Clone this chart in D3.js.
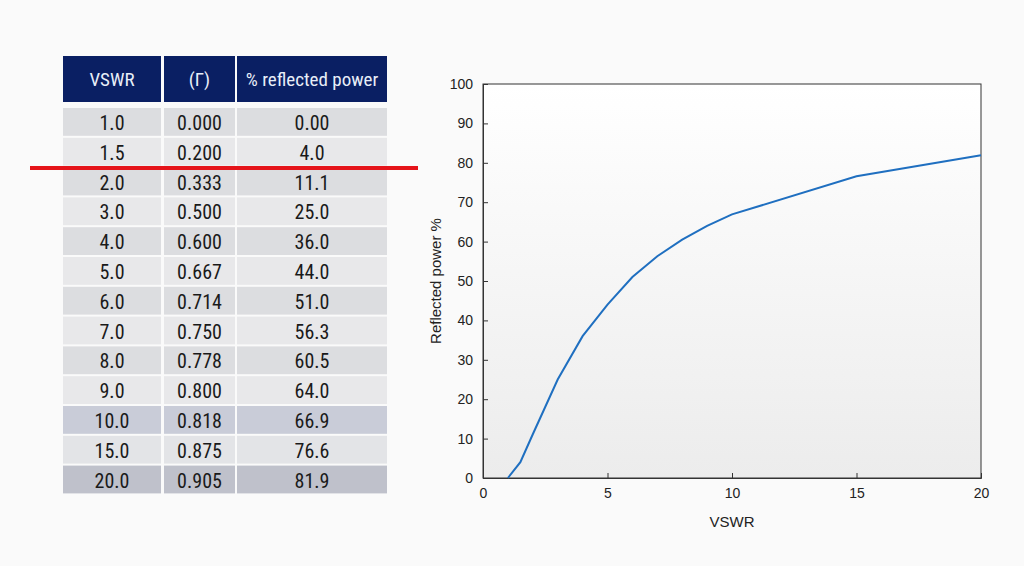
<!DOCTYPE html>
<html><head><meta charset="utf-8">
<script src="https://cdn.jsdelivr.net/npm/d3@7"></script>
<style>body{margin:0;background:#fafafa;} text{font-family:"Liberation Sans Narrow","Roboto Condensed",Roboto,sans-serif;}</style>
</head><body><div id="chart"></div>
<script>
var vswr = [1.0, 1.5, 2.0, 3.0, 4.0, 5.0, 6.0, 7.0, 8.0, 9.0, 10.0, 15.0, 20.0];
var gamma = ["0.000","0.200","0.333","0.500","0.600","0.667","0.714","0.750","0.778","0.800","0.818","0.875","0.905"];
var power = [0.00, 4.0, 11.1, 25.0, 36.0, 44.0, 51.0, 56.3, 60.5, 64.0, 66.9, 76.6, 81.9];
var powerLabels = ["0.00","4.0","11.1","25.0","36.0","44.0","51.0","56.3","60.5","64.0","66.9","76.6","81.9"];
var headers = ["VSWR", "(Γ)", "% reflected power"];
var rowFills = ["#dcdde0","#e8e8ea","#dcdde0","#e8e8ea","#dcdde0","#e8e8ea","#dcdde0","#e8e8ea","#dcdde0","#e8e8ea","#c9ccd8","#e3e4e7","#bfc1cb"];
var xTicks = [0, 5, 10, 15, 20];
var yTicks = d3.range(0, 101, 10);

var svg = d3.select("#chart").append("svg").attr("width", 1024).attr("height", 566);

// Table
var cols = [{x: 63, w: 98}, {x: 164, w: 71}, {x: 237, w: 150}];
var headTop = 56, headH = 46, rowTop = 108, rowH = 29.8;
cols.forEach(function(c, i) {
    svg.append("rect").attr("x", c.x).attr("y", headTop).attr("width", c.w).attr("height", headH).attr("fill", "#0a1f63");
    svg.append("text").attr("x", c.x + c.w / 2).attr("y", headTop + headH / 2 + 7)
        .attr("text-anchor", "middle").attr("fill", "#e8eef8").attr("font-size", 19).text(headers[i]);
});
vswr.forEach(function(v, r) {
    var vals = [v.toFixed(1), gamma[r], powerLabels[r]];
    cols.forEach(function(c, i) {
        svg.append("rect").attr("x", c.x).attr("y", rowTop + r * rowH).attr("width", c.w).attr("height", rowH - 2)
            .attr("fill", rowFills[r]);
        svg.append("text").attr("x", c.x + c.w / 2).attr("y", rowTop + r * rowH + rowH / 2 + 7)
            .attr("text-anchor", "middle").attr("fill", "#1a1a1a").attr("font-size", 20).text(vals[i]);
    });
});
svg.append("line").attr("x1", 30).attr("x2", 418).attr("y1", 168).attr("y2", 168)
    .attr("stroke", "#e5141a").attr("stroke-width", 4);

// Chart
var pLeft = 483, pRight = 981, pTop = 84, pBottom = 478;
var x = d3.scaleLinear().domain([0, 20]).range([pLeft, pRight]);
var y = d3.scaleLinear().domain([0, 100]).range([pBottom, pTop]);

var grad = svg.append("defs").append("linearGradient").attr("id", "bg").attr("x1", 0).attr("x2", 0).attr("y1", 0).attr("y2", 1);
grad.append("stop").attr("offset", "0%").attr("stop-color", "#ffffff");
grad.append("stop").attr("offset", "100%").attr("stop-color", "#ececec");
svg.append("rect").attr("x", pLeft).attr("y", pTop).attr("width", pRight - pLeft).attr("height", pBottom - pTop)
    .attr("fill", "url(#bg)").attr("stroke", "#333").attr("stroke-width", 1);

var xAxis = svg.append("g").attr("transform", "translate(0," + pBottom + ")")
    .call(d3.axisBottom(x).tickValues(xTicks).tickSize(-5).tickPadding(10));
var yAxis = svg.append("g").attr("transform", "translate(" + pLeft + ",0)")
    .call(d3.axisLeft(y).tickValues(yTicks).tickSize(-5).tickPadding(10));
[xAxis, yAxis].forEach(function(g) {
    g.select(".domain").attr("stroke", "#333");
    g.selectAll("line").attr("stroke", "#333");
    g.selectAll("text").attr("font-size", 14).attr("fill", "#222").style("font-family", "Liberation Sans, Arial, sans-serif");
});
svg.append("text").attr("x", (pLeft + pRight) / 2).attr("y", 527).attr("text-anchor", "middle")
    .attr("font-size", 15).attr("fill", "#222").style("font-family", "Liberation Sans, Arial, sans-serif").text("VSWR");
svg.append("text").attr("transform", "translate(441," + ((pTop + pBottom) / 2) + ") rotate(-90)")
    .attr("text-anchor", "middle").attr("font-size", 15).attr("fill", "#222")
    .style("font-family", "Liberation Sans, Arial, sans-serif").text("Reflected power %");

var line = d3.line().x(function(d, i) { return x(vswr[i]); }).y(function(d) { return y(d); });
svg.append("path").datum(power).attr("d", line).attr("fill", "none")
    .attr("stroke", "#1f6fc0").attr("stroke-width", 2);
</script></body></html>
